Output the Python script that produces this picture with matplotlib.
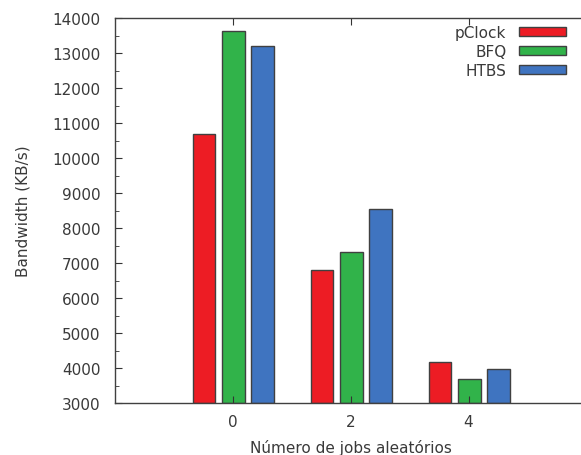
import numpy as np
import matplotlib.pyplot as plt
from matplotlib.ticker import MultipleLocator

jobs = [0, 2, 4]
pclock = [10700, 6800, 4160]
bfq = [13650, 7330, 3700]
htbs = [13200, 8560, 3970]

series = [('pClock', pclock, '#ed1c24'),
          ('BFQ', bfq, '#31b34a'),
          ('HTBS', htbs, '#3f74c0')]
offsets = [-0.48, 0.02, 0.51]

plt.rcParams['font.family'] = 'DejaVu Sans'
plt.rcParams['font.size'] = 11

fig = plt.figure(figsize=(5.81, 4.56), dpi=100)
# axes run past the right edge on purpose (the reference is cropped there)
ax = fig.add_axes([114.5 / 581, 52 / 456, 472 / 581, 384.7 / 456])

x = np.array(jobs, dtype=float)
for (name, vals, col), off in zip(series, offsets):
    ax.bar(x + off, np.array(vals) - 3000, width=0.38, bottom=3000,
           color=col, edgecolor='#404040', linewidth=1.0, label=name)

ax.set_xlim(-2, 6)
ax.set_ylim(3000, 14000)
ax.set_xticks(jobs)
ax.yaxis.set_major_locator(MultipleLocator(1000))
ax.yaxis.set_minor_locator(MultipleLocator(500))
ax.tick_params(direction='in', which='both', top=True, right=False,
               colors='#333333', labelcolor='#3a3a3a')
ax.tick_params(axis='x', pad=8)
ax.tick_params(axis='y', pad=10)
ax.tick_params(which='major', length=5)
ax.tick_params(which='minor', length=3)
ax.tick_params(axis='x', which='minor', bottom=False, top=False)
for s in ax.spines.values():
    s.set_color('#404040')
    s.set_linewidth(1.0)

ax.set_xlabel('Número de jobs aleatórios', color='#3a3a3a', labelpad=7)
ax.set_ylabel('Bandwidth (KB/s)', color='#3a3a3a', labelpad=16)

leg = ax.legend(loc='upper right', bbox_to_anchor=((566 - 114.5) / 472, 0.982),
                markerfirst=False, frameon=False, handlelength=3.05,
                handleheight=0.52, handletextpad=0.85, labelspacing=0.25,
                borderaxespad=0.0, borderpad=0.0)
for t in leg.get_texts():
    t.set_color('#3a3a3a')

fig.savefig('out.png', dpi=100)
